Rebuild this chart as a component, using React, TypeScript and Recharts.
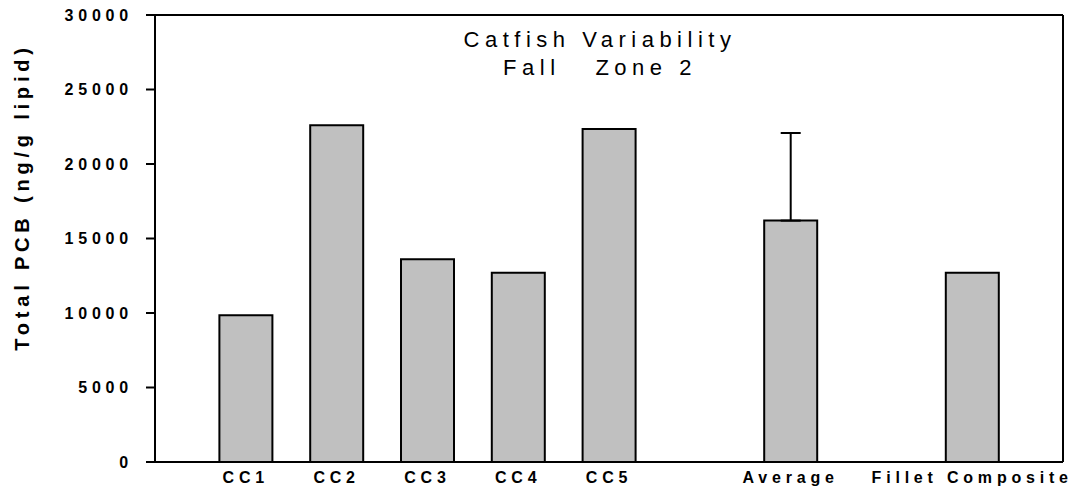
import React from "react";
import { Bar, BarChart, ErrorBar, ReferenceLine, XAxis, YAxis } from "recharts";

// category labels and their slot on the category axis (gaps after CC5 and Average)
const categories = ["CC1", "CC2", "CC3", "CC4", "CC5", "Average", "Fillet Composite"];
const slots = [1, 2, 3, 4, 5, 7, 9];
const pcbValues = [9850, 22600, 13600, 12700, 22350, 16200, 12700];
// only the average carries a (one-sided) standard deviation bar
const pcbErrors: (number[] | undefined)[] = [
  undefined,
  undefined,
  undefined,
  undefined,
  undefined,
  [0, 5880],
  undefined,
];
const yTicks = [0, 5000, 10000, 15000, 20000, 25000, 30000];

const chartData = categories.map((name, i) => ({
  name,
  slot: slots[i],
  value: pcbValues[i],
  err: pcbErrors[i],
}));

const FONT = '"Liberation Sans", Arial, Helvetica, sans-serif';
const tickStyle = { fill: "#000", fontSize: 16, fontWeight: "bold", letterSpacing: 4.8, fontFamily: FONT };

function labelFor(slot: number): string {
  const i = slots.indexOf(slot);
  return i >= 0 ? categories[i] : "";
}

function YLabel() {
  return (
    <text
      x={22}
      y={197}
      transform="rotate(-90, 22, 197)"
      textAnchor="middle"
      dominantBaseline="central"
      fontFamily={FONT}
      fontSize={20}
      fontWeight="bold"
      letterSpacing={4.8}
      fill="#000"
    >
      Total PCB (ng/g lipid)
    </text>
  );
}

export default function App() {
  return (
    <div style={{ position: "absolute", left: 0, top: 0, width: 1078, height: 491, background: "#fff" }}>
      <BarChart
        width={1078}
        height={491}
        data={chartData}
        margin={{ top: 15, right: 15, bottom: 0, left: 0 }}
      >
        <XAxis
          dataKey="slot"
          type="number"
          domain={[0, 10]}
          ticks={slots}
          interval={0}
          allowDataOverflow
          height={29}
          tickFormatter={labelFor}
          tickLine={false}
          tickSize={0}
          tickMargin={10}
          axisLine={{ stroke: "#000", strokeWidth: 2 }}
          tick={tickStyle}
        />
        <YAxis
          type="number"
          domain={[0, 30000]}
          ticks={yTicks}
          interval={0}
          width={155}
          tickSize={9}
          tickMargin={13}
          axisLine={{ stroke: "#000", strokeWidth: 2 }}
          tickLine={{ stroke: "#000", strokeWidth: 2 }}
          tick={tickStyle}
          label={<YLabel />}
        />
        <ReferenceLine y={30000} stroke="#000" strokeWidth={2} />
        <ReferenceLine x={10} stroke="#000" strokeWidth={2} />
        <Bar dataKey="value" fill="#c0c0c0" stroke="#000" strokeWidth={2} barSize={53} isAnimationActive={false}>
          <ErrorBar dataKey="err" width={10} stroke="#000" strokeWidth={2} direction="y" isAnimationActive={false} />
        </Bar>
      </BarChart>
      <div
        style={{
          position: "absolute",
          left: 400,
          top: 26,
          width: 400,
          textAlign: "center",
          fontFamily: FONT,
          fontSize: 22,
          lineHeight: "28px",
          letterSpacing: 5.5,
          color: "#000",
          whiteSpace: "pre",
        }}
      >
        <div>Catfish Variability</div>
        <div>Fall   Zone 2</div>
      </div>
    </div>
  );
}
